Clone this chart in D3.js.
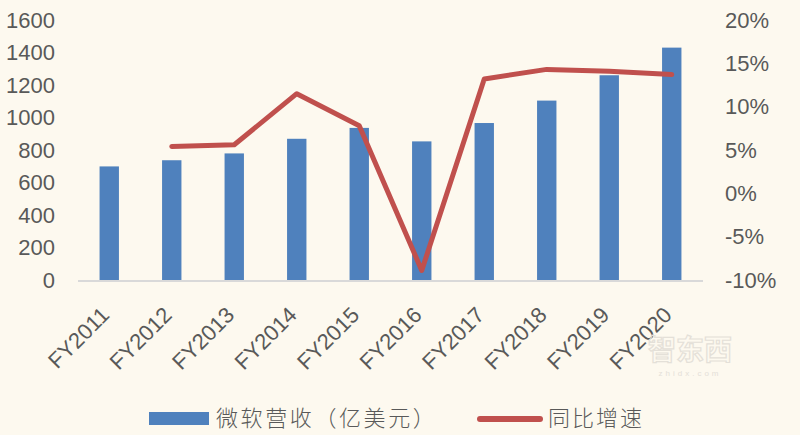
<!DOCTYPE html>
<html><head><meta charset="utf-8">
<script src="https://cdn.jsdelivr.net/npm/d3@7"></script>
<style>
html,body{margin:0;padding:0;background:#fdf9ef;}
svg{display:block;}
</style></head>
<body>
<svg id="c" width="800" height="435"></svg>
<script>
const categories = ["FY2011","FY2012","FY2013","FY2014","FY2015","FY2016","FY2017","FY2018","FY2019","FY2020"];
const revenue = [699, 737, 779, 869, 936, 853, 966, 1104, 1260, 1430];
const growth = [null, 5.4, 5.6, 11.5, 7.8, -8.9, 13.2, 14.3, 14.1, 13.7];
const leftTicks = [0,200,400,600,800,1000,1200,1400,1600];
const rightTicks = [-10,-5,0,5,10,15,20];
const legendLabels = ["微软营收（亿美元）","同比增速"];

const svg = d3.select("#c");
svg.append("rect").attr("width",800).attr("height",435).attr("fill","#fdf9ef");

const x0 = 78, x1 = 703, yTop = 20, yBot = 280;
const x = d3.scaleBand().domain(categories).range([x0,x1]).paddingInner(0.69).paddingOuter(0.345);
const yL = d3.scaleLinear().domain([0,1600]).range([yBot,yTop]);
const yR = d3.scaleLinear().domain([-10,20]).range([yBot,yTop]);
const font = "'Liberation Sans', Arial, sans-serif";

// bars
svg.append("g").selectAll("rect").data(categories).join("rect")
  .attr("x", d=>x(d)).attr("width", x.bandwidth())
  .attr("y", (d,i)=>yL(revenue[i])).attr("height",(d,i)=>yBot-yL(revenue[i]))
  .attr("fill","#4f81bd");

// baseline
svg.append("line").attr("x1",x0).attr("x2",x1).attr("y1",yBot+1).attr("y2",yBot+1)
  .attr("stroke","#d9d9d9").attr("stroke-width",2);

// left axis
const gl = svg.append("g").attr("transform",`translate(55,0)`)
  .call(d3.axisLeft(yL).tickValues(leftTicks).tickSize(0).tickPadding(0).tickFormat(d3.format("d")));
gl.select(".domain").remove();
gl.selectAll("text").attr("font-family",font).attr("font-size",22).attr("fill","#595959");

// right axis
const gr = svg.append("g").attr("transform",`translate(725,0)`)
  .call(d3.axisRight(yR).tickValues(rightTicks).tickSize(0).tickPadding(0).tickFormat(d=>d+"%"));
gr.select(".domain").remove();
gr.selectAll("text").attr("font-family",font).attr("font-size",22).attr("fill","#595959");

// x labels
svg.append("g").selectAll("text").data(categories).join("text")
  .attr("transform", d=>`translate(${x(d)+x.bandwidth()/2-4},${yBot+31}) rotate(-45)`)
  .attr("text-anchor","end").attr("dy","0.35em")
  .attr("font-family",font).attr("font-size",22).attr("fill","#595959")
  .text(d=>d);

// growth line
const pts = categories.map((c,i)=>({c, v:growth[i]})).filter(d=>d.v!==null);
svg.append("path").datum(pts)
  .attr("d", d3.line().x(d=>x(d.c)+x.bandwidth()/2).y(d=>yR(d.v)))
  .attr("fill","none").attr("stroke","#c0504d").attr("stroke-width",5)
  .attr("stroke-linecap","round").attr("stroke-linejoin","round");

// watermark
svg.append("text").attr("x",690).attr("y",360).attr("text-anchor","middle")
  .attr("font-family","'Noto Sans CJK SC'").attr("font-size",28).attr("font-weight",700)
  .attr("fill","none").attr("stroke","#e4e0d8").attr("stroke-width",1.2).text("智东西");
svg.append("text").attr("x",690).attr("y",376).attr("text-anchor","middle")
  .attr("font-family",font).attr("font-size",8).attr("letter-spacing",3)
  .attr("fill","#e4e0d8").text("zhidx.com");

// legend
const cjk = "'Noto Sans CJK SC', sans-serif";
svg.append("rect").attr("x",149).attr("y",412).attr("width",60).attr("height",13).attr("fill","#4f81bd");
svg.append("text").attr("x",216).attr("y",426).attr("font-family",cjk).attr("font-size",22)
  .attr("letter-spacing",2.6)
  .attr("font-weight",300).attr("fill","#595959").text(legendLabels[0]);
svg.append("line").attr("x1",480).attr("x2",540).attr("y1",419).attr("y2",419)
  .attr("stroke","#c0504d").attr("stroke-width",6).attr("stroke-linecap","round");
svg.append("text").attr("x",548).attr("y",426).attr("font-family",cjk).attr("font-size",22)
  .attr("letter-spacing",2)
  .attr("font-weight",300).attr("fill","#595959").text(legendLabels[1]);
</script>
</body></html>
